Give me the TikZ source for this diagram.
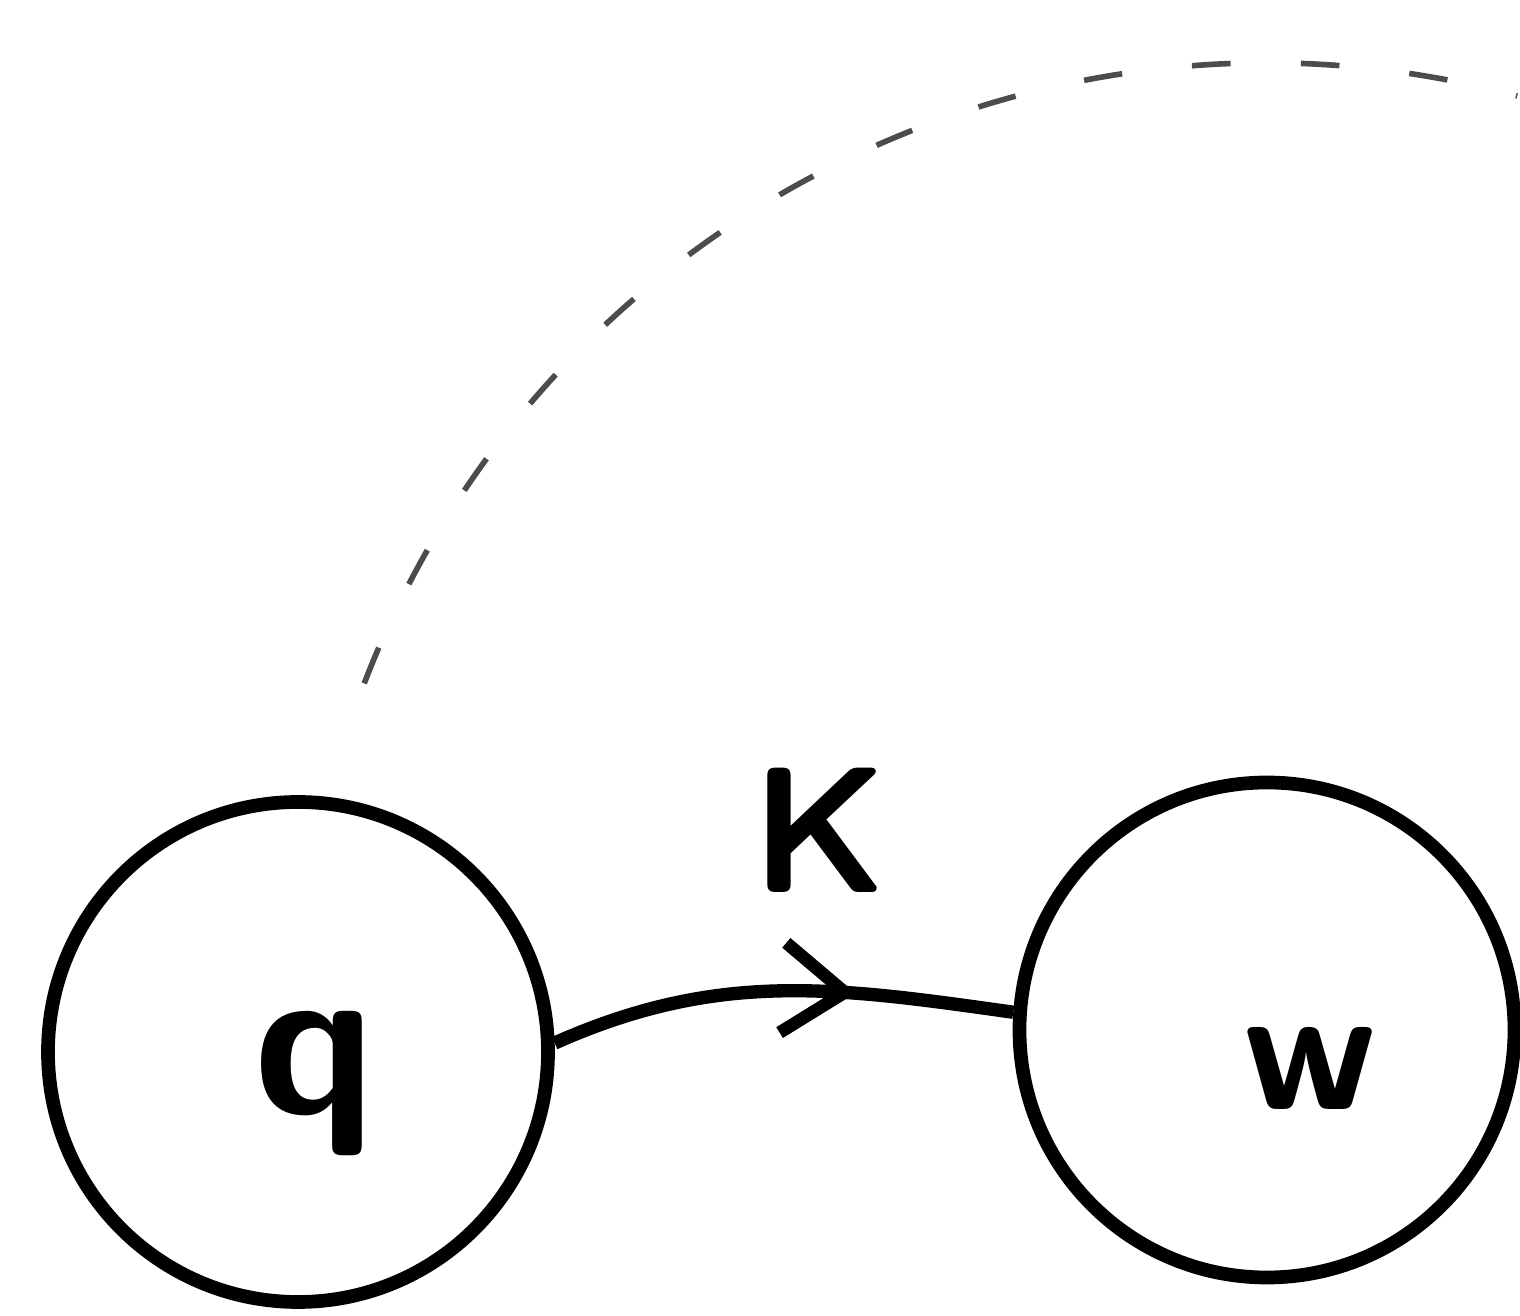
\documentclass[tikz,border=0pt]{standalone}
\usetikzlibrary{arrows.meta,decorations.markings,calc}

\newcommand{\handfont}{\fontsize{51}{60}\selectfont\sffamily\bfseries}

\begin{document}
\begin{tikzpicture}[
    statecirc/.style={circle, draw, line width=3.9pt, minimum size=#1, inner sep=0pt},
    letter/.style={font=\handfont, anchor=base, inner sep=0pt},
    midarrow/.style={decoration={markings,
        mark=at position 0.66 with {\arrow{Straight Barb[length=0.62cm, width=0.9cm, line width=3.6pt]}}},
        postaction={decorate}}
]
    \useasboundingbox (0,0) rectangle (15.2,13.16);

    % the two states
    \node[statecirc=5.0cm] (q) at (2.98,2.64) {};
    \node[statecirc=4.95cm] (w) at (12.67,2.86) {};

    \node[letter, font=\fontsize{62}{70}\selectfont\sffamily\bfseries] (qtxt) at ($(q)+(0.17,-0.62)$) {q};
    \node[letter] (wtxt) at ($(w)+(0.43,-0.80)$) {w};

    % transition
    \draw[line width=3.8pt, midarrow] (q.2) to[out=24, in=172] (w.176);
    \node[letter] (ktxt) at (8.20,4.23) {K};

    % faint boundary round w
    \draw[black!70, line width=1.6pt, dash pattern=on 11pt off 20pt]
        ($(w)+(159:9.67)$) arc[start angle=159, end angle=75, radius=9.67];
\end{tikzpicture}
\end{document}
